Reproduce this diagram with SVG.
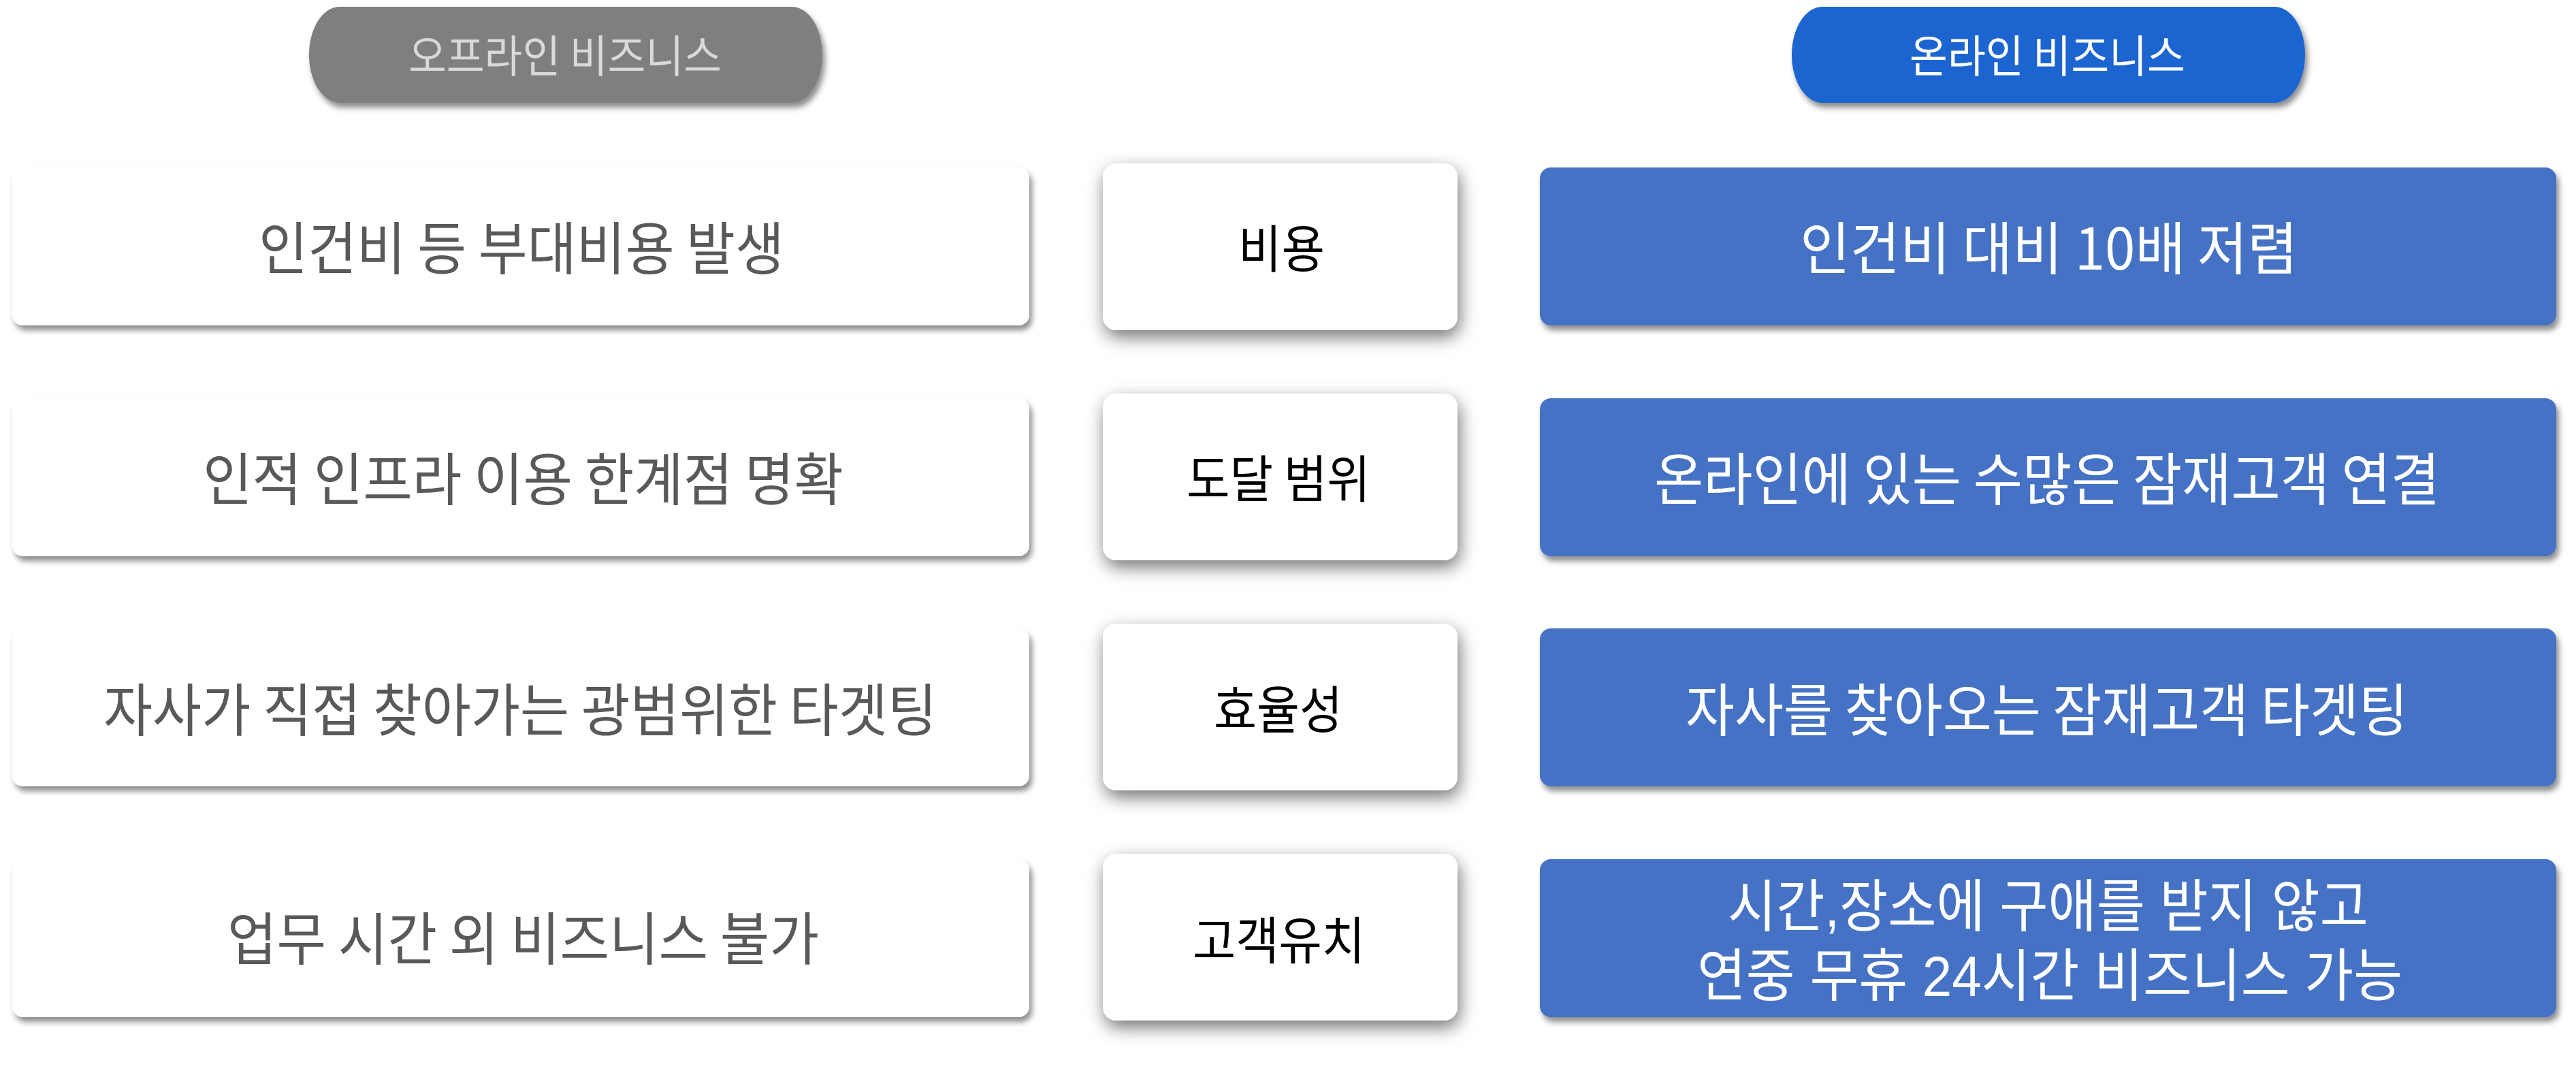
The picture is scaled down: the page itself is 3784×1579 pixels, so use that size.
<svg xmlns="http://www.w3.org/2000/svg" width="3784" height="1579" viewBox="0 0 3784 1579">
<defs>
<filter id="sh" x="-5%" y="-20%" width="110%" height="150%">
<feDropShadow dx="4" dy="7" stdDeviation="4" flood-color="#000" flood-opacity="0.45"/>
</filter>
<filter id="shm" x="-20%" y="-30%" width="140%" height="170%">
<feDropShadow dx="3" dy="10" stdDeviation="13" flood-color="#000" flood-opacity="0.55"/>
</filter>
<style>
text{font-family:"Noto Sans CJK KR","Noto Sans CJK SC",sans-serif;}
.side{fill:#ffffff;filter:url(#sh);}
.blue{fill:#4472C4;filter:url(#sh);}
.mid{fill:#ffffff;filter:url(#shm);}
.ts{font-size:84px;fill:#595959;}
.tb{font-size:84px;fill:#ffffff;}
.tm{font-size:75px;fill:#000000;}
.th{font-size:65px;}
.two{font-family:"Liberation Sans","Noto Sans CJK KR",sans-serif;}
</style>
</defs>
<rect width="3784" height="1579" fill="#ffffff"/>

<g id="header-offline">
<rect x="454" y="10" width="754" height="141" rx="45" ry="70" fill="#7F7F7F" filter="url(#sh)"/>
<text class="th" x="600" y="106" textLength="460" lengthAdjust="spacingAndGlyphs" fill="#D9D9D9">오프라인 비즈니스</text>
</g>
<g id="header-online">
<rect x="2632" y="10" width="754" height="141" rx="45" ry="70" fill="#1F65D0" filter="url(#sh)"/>
<text class="th" x="2805" y="106" textLength="405" lengthAdjust="spacingAndGlyphs" fill="#FFFFFF">온라인 비즈니스</text>
</g>

<g id="off-1"><rect class="side" x="18" y="246" width="1494" height="232" rx="16"/>
<text class="ts" x="380" y="396" textLength="772" lengthAdjust="spacingAndGlyphs">인건비 등 부대비용 발생</text></g>
<g id="off-2"><rect class="side" x="18" y="585" width="1494" height="232" rx="16"/>
<text class="ts" x="298" y="735" textLength="941" lengthAdjust="spacingAndGlyphs">인적 인프라 이용 한계점 명확</text></g>
<g id="off-3"><rect class="side" x="18" y="923" width="1494" height="232" rx="16"/>
<text class="ts" x="152" y="1074" textLength="1224" lengthAdjust="spacingAndGlyphs">자사가 직접 찾아가는 광범위한 타겟팅</text></g>
<g id="off-4"><rect class="side" x="18" y="1262" width="1494" height="232" rx="16"/>
<text class="ts" x="334" y="1410" textLength="869" lengthAdjust="spacingAndGlyphs">업무 시간 외 비즈니스 불가</text></g>

<g id="mid-1"><rect class="mid" x="1620" y="240" width="521" height="245" rx="20"/>
<text class="tm" x="1819" y="393" textLength="127" lengthAdjust="spacingAndGlyphs">비용</text></g>
<g id="mid-2"><rect class="mid" x="1620" y="578" width="521" height="245" rx="20"/>
<text class="tm" x="1743" y="731" textLength="270" lengthAdjust="spacingAndGlyphs">도달 범위</text></g>
<g id="mid-3"><rect class="mid" x="1620" y="916" width="521" height="245" rx="20"/>
<text class="tm" x="1783" y="1070" textLength="189" lengthAdjust="spacingAndGlyphs">효율성</text></g>
<g id="mid-4"><rect class="mid" x="1620" y="1254" width="521" height="245" rx="20"/>
<text class="tm" x="1752" y="1409" textLength="253" lengthAdjust="spacingAndGlyphs">고객유치</text></g>

<g id="on-1"><rect class="blue" x="2262" y="246" width="1493" height="232" rx="16"/>
<text class="tb" x="2644" y="396" textLength="731" lengthAdjust="spacingAndGlyphs">인건비 대비 10배 저렴</text></g>
<g id="on-2"><rect class="blue" x="2262" y="585" width="1493" height="232" rx="16"/>
<text class="tb" x="2430" y="735" textLength="1154" lengthAdjust="spacingAndGlyphs">온라인에 있는 수많은 잠재고객 연결</text></g>
<g id="on-3"><rect class="blue" x="2262" y="923" width="1493" height="232" rx="16"/>
<text class="tb" x="2476" y="1074" textLength="1061" lengthAdjust="spacingAndGlyphs">자사를 찾아오는 잠재고객 타겟팅</text></g>
<g id="on-4"><rect class="blue" x="2262" y="1262" width="1493" height="232" rx="16"/>
<text class="tb two" x="2538" y="1361" textLength="941" lengthAdjust="spacingAndGlyphs">시간,장소에 구애를 받지 않고</text>
<text class="tb two" x="2493" y="1463" textLength="1036" lengthAdjust="spacingAndGlyphs">연중 무휴 24시간 비즈니스 가능</text></g>
</svg>
